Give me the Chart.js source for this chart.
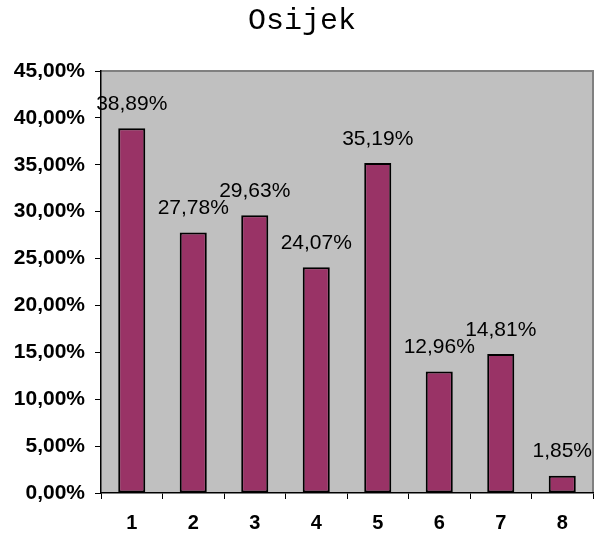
<!DOCTYPE html>
<html>
<head>
<meta charset="utf-8">
<script src="https://cdn.jsdelivr.net/npm/chart.js@4.4.1/dist/chart.umd.min.js"></script>
<style>
  html, body { margin: 0; padding: 0; background: #fff; }
  #wrap { width: 594px; height: 535px; }
</style>
</head>
<body>
<div id="wrap"><canvas id="chart" width="594" height="535"></canvas></div>
<script>
// chart data
const categories = ['1', '2', '3', '4', '5', '6', '7', '8'];
const shares = [0.3889, 0.2778, 0.2963, 0.2407, 0.3519, 0.1296, 0.1481, 0.0185];
const titleText = 'Osijek';

const fmtPct = v => (v * 100).toFixed(2).replace('.', ',') + '%';

// gray plot background with gray top/right frame
const plotBg = {
    id: 'plotBg',
    beforeDraw(chart) {
        const { ctx, chartArea: a } = chart;
        ctx.save();
        ctx.fillStyle = '#C0C0C0';
        ctx.fillRect(a.left, a.top, a.right - a.left, a.bottom - a.top);
        ctx.strokeStyle = '#808080';
        ctx.lineWidth = 2;
        ctx.beginPath();
        ctx.moveTo(a.left, a.top);
        ctx.lineTo(a.right, a.top);
        ctx.lineTo(a.right, a.bottom);
        ctx.stroke();
        ctx.restore();
    }
};

// title and value labels above bars
const labels = {
    id: 'labels',
    afterDraw(chart) {
        const { ctx } = chart;
        ctx.save();
        ctx.fillStyle = '#000';
        ctx.textAlign = 'center';
        ctx.textBaseline = 'middle';
        ctx.font = '30px "Liberation Mono", "Courier New", monospace';
        ctx.fillText(titleText, 302, 21);
        ctx.font = '21px "Liberation Sans", Arial, sans-serif';
        chart.getDatasetMeta(0).data.forEach((bar, i) => {
            ctx.fillText(fmtPct(shares[i]), bar.x, bar.y - 24);
        });
        ctx.restore();
    }
};

new Chart(document.getElementById('chart'), {
    type: 'bar',
    data: {
        labels: categories,
        datasets: [{
            data: shares,
            backgroundColor: '#993366',
            borderColor: '#000',
            borderWidth: 2,
            borderSkipped: false,
            categoryPercentage: 0.88,
            barPercentage: 0.5
        }]
    },
    options: {
        responsive: false,
        animation: false,
        layout: { padding: { top: 71, right: 1, left: 0, bottom: 0 } },
        plugins: { legend: { display: false }, title: { display: false }, tooltip: { enabled: false } },
        scales: {
            x: {
                afterFit: s => { s.height = 42; },
                grid: { offset: true, drawOnChartArea: false, color: '#000', tickLength: 6, lineWidth: 1 },
                border: { color: '#000', width: 1.5 },
                ticks: { color: '#000', padding: 12, font: { family: '"Liberation Sans", Arial, sans-serif', size: 20, weight: 'bold' } }
            },
            y: {
                min: 0,
                max: 0.45,
                afterFit: s => { s.width = 101; },
                grid: { drawOnChartArea: false, color: '#000', tickLength: 6, lineWidth: 1 },
                border: { color: '#000', width: 1.5 },
                ticks: {
                    stepSize: 0.05,
                    color: '#000',
                    padding: 10,
                    font: { family: '"Liberation Sans", Arial, sans-serif', size: 21, weight: 'bold' },
                    callback: v => fmtPct(v)
                }
            }
        }
    },
    plugins: [plotBg, labels]
});
</script>
</body>
</html>
